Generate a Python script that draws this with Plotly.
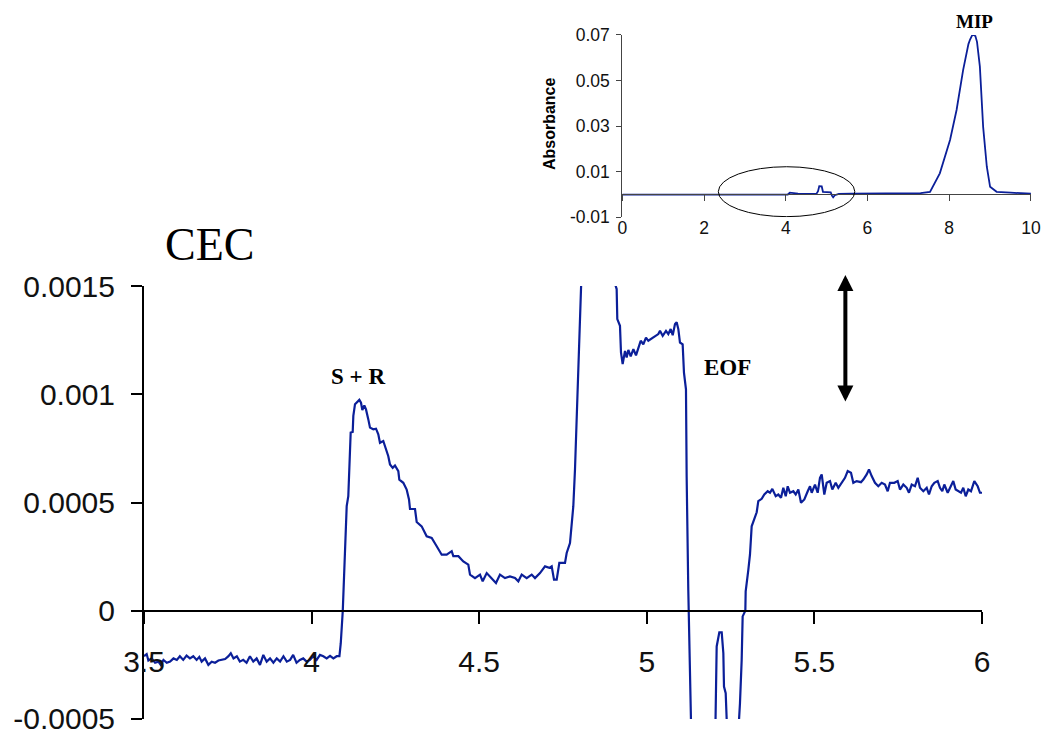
import plotly.graph_objects as go

# ---------------- CEC trace (main panel) ----------------
cec_time = [
    3.500, 3.508, 3.513, 3.523, 3.533, 3.543, 3.550, 3.558, 3.568, 3.578, 3.588, 3.598,
    3.607, 3.617, 3.627, 3.637, 3.647, 3.657, 3.665, 3.672, 3.682, 3.692, 3.702, 3.712,
    3.722, 3.732, 3.742, 3.752, 3.759, 3.767, 3.777, 3.786, 3.796, 3.806, 3.816, 3.826,
    3.836, 3.846, 3.856, 3.866, 3.876, 3.886, 3.896, 3.906, 3.916, 3.926, 3.936, 3.945,
    3.955, 3.965, 3.975, 3.985, 3.995, 4.005, 4.015, 4.025, 4.035, 4.045, 4.055, 4.065,
    4.075, 4.083, 4.087,
    4.093, 4.1017, 4.1047, 4.1095, 4.1146, 4.1166, 4.1226, 4.1245, 4.1295, 4.1424, 4.1474,
    4.1514, 4.1573, 4.1623, 4.1692, 4.1742, 4.1841, 4.1921, 4.199, 4.204, 4.2139, 4.2219,
    4.2288, 4.2339, 4.2419, 4.2488, 4.2587, 4.2617, 4.2736, 4.2836, 4.2906, 4.2936, 4.3085,
    4.3135, 4.3284, 4.3433, 4.3583, 4.3732, 4.3881, 4.403, 4.418, 4.4228, 4.4379, 4.4526,
    4.4675, 4.4726, 4.4875, 4.5024, 4.5104, 4.5224, 4.5373, 4.5501, 4.562, 4.5769, 4.5919,
    4.6068, 4.6167, 4.6268, 4.6417, 4.6566, 4.6665, 4.6814, 4.6963, 4.7092, 4.7163, 4.7232,
    4.7312, 4.7391, 4.756, 4.761, 4.7709, 4.7759, 4.7808, 4.7858, 4.7909, 4.7958, 4.8007,
    4.81, 4.83, 4.86, 4.885, 4.90, 4.9051, 4.9101, 4.912, 4.92, 4.923, 4.928,
    4.935, 4.94, 4.945, 4.952, 4.96, 4.9678, 4.9747, 4.9818, 4.9897, 4.9976, 5.0046,
    5.0146, 5.0245, 5.0344, 5.0394, 5.0474, 5.0573, 5.0642, 5.0713, 5.0773, 5.0842, 5.0892,
    5.0941, 5.099, 5.107, 5.1109, 5.1169, 5.1189, 5.1238, 5.1289, 5.1339, 5.145, 5.195,
    5.2034, 5.2085, 5.2164, 5.2235, 5.2284, 5.2303, 5.2354, 5.2384, 5.248, 5.268,
    5.2751, 5.278, 5.2831, 5.286, 5.294, 5.295, 5.303, 5.3079, 5.3129, 5.3279,
    5.3327, 5.3428, 5.3506, 5.3607, 5.3676, 5.3745, 5.3846, 5.3924, 5.4004, 5.4073, 5.4145,
    5.4204, 5.4273, 5.4372, 5.4443, 5.4521, 5.4601, 5.4700, 5.4801, 5.487, 5.492, 5.5018,
    5.5098, 5.5167, 5.5218, 5.5296, 5.5367, 5.5466, 5.5535, 5.5636, 5.5714, 5.5815, 5.5913,
    5.5994, 5.6092, 5.6161, 5.6262, 5.639, 5.646, 5.656, 5.6629, 5.6709, 5.6808, 5.6907,
    5.7008, 5.7106, 5.7187, 5.7255, 5.7384, 5.7485, 5.7554, 5.7653, 5.7754, 5.7822, 5.7903,
    5.8001, 5.8082, 5.815, 5.825, 5.8351, 5.8419, 5.85, 5.8578, 5.8679, 5.8747, 5.8816,
    5.8876, 5.8977, 5.9075, 5.9144, 5.9215, 5.9293, 5.9374, 5.9442, 5.9514, 5.9592, 5.9672,
    5.9771, 5.9872, 5.994, 6.000,
]
cec_absorbance = [
    -0.000210, -0.000200, -0.000230, -0.000220, -0.000240, -0.000235, -0.000250, -0.000227,
    -0.000240, -0.000235, -0.000220, -0.000227, -0.000210, -0.000227, -0.000207, -0.000220,
    -0.000210, -0.000227, -0.000213, -0.000235, -0.000220, -0.000250, -0.000235, -0.000240,
    -0.000230, -0.000227, -0.000223, -0.000210, -0.000196, -0.000220, -0.000210, -0.000235,
    -0.000227, -0.000240, -0.000210, -0.000235, -0.000220, -0.000250, -0.000204, -0.000235,
    -0.000220, -0.000240, -0.000220, -0.000235, -0.000210, -0.000235, -0.000227, -0.000204,
    -0.000240, -0.000227, -0.000220, -0.000235, -0.000227, -0.000210, -0.000227, -0.000204,
    -0.000210, -0.000220, -0.000208, -0.000220, -0.000210, -0.000210, -0.000150,
    0.000000, 0.000421, 0.000483, 0.000529, 0.000738, 0.000823, 0.000826, 0.000900, 0.000954,
    0.000974, 0.000961, 0.000927, 0.000949, 0.000930, 0.000884, 0.000846, 0.000838, 0.000841,
    0.000815, 0.000776, 0.000784, 0.000745, 0.000714, 0.000676, 0.000660, 0.000671, 0.000645,
    0.000606, 0.000591, 0.000560, 0.000514, 0.000470, 0.000470, 0.000410, 0.000390, 0.000344,
    0.000336, 0.000298, 0.000259, 0.000259, 0.000275, 0.000252, 0.000252, 0.000228, 0.000213,
    0.000167, 0.000151, 0.000167, 0.000136, 0.000174, 0.000151, 0.000128, 0.000167, 0.000151,
    0.000159, 0.000151, 0.000136, 0.000167, 0.000151, 0.000167, 0.000151, 0.000174, 0.000205,
    0.000198, 0.000205, 0.000144, 0.000144, 0.000221, 0.000221, 0.000267, 0.000313, 0.000390,
    0.000483, 0.000653, 0.000961, 0.001316, 0.001509,
    0.002500, 0.004000, 0.004100, 0.003000, 0.001800, 0.001510, 0.001486, 0.001347, 0.001316,
    0.001193, 0.001139,
    0.001200, 0.001170, 0.001205, 0.001175, 0.001208, 0.001180, 0.001216, 0.001247, 0.001231,
    0.001262, 0.001247, 0.001258, 0.001267, 0.001278, 0.001293, 0.001270, 0.001293, 0.001278,
    0.001301, 0.001273, 0.001324, 0.001332, 0.001301, 0.001239, 0.001231, 0.001100, 0.001023,
    0.000622, 0.000097, -0.000227, -0.000505, -0.001500, -0.001500,
    -0.000505, -0.000165, -0.000100, -0.000100, -0.000196, -0.000350, -0.000381, -0.000505,
    -0.001500, -0.001500,
    -0.000505, -0.000427, -0.000227, -0.000026, 0.000000, 0.000090, 0.000190, 0.000260,
    0.000390, 0.000455,
    0.000506, 0.000517, 0.000537, 0.000552, 0.000545, 0.000563, 0.000529, 0.000537, 0.000522,
    0.000568, 0.000529, 0.000575, 0.000545, 0.000552, 0.000537, 0.000560, 0.000499, 0.000514,
    0.000552, 0.000575, 0.000545, 0.000583, 0.000545, 0.000614, 0.000630, 0.000537, 0.000591,
    0.000599, 0.000560, 0.000591, 0.000568, 0.000591, 0.000614, 0.000645, 0.000637, 0.000591,
    0.000599, 0.000594, 0.000606, 0.000630, 0.000653, 0.000622, 0.000591, 0.000575, 0.000591,
    0.000583, 0.000552, 0.000591, 0.000591, 0.000599, 0.000560, 0.000583, 0.000568, 0.000545,
    0.000583, 0.000575, 0.000614, 0.000568, 0.000552, 0.000568, 0.000537, 0.000575, 0.000591,
    0.000599, 0.000568, 0.000552, 0.000583, 0.000545, 0.000575, 0.000599, 0.000560, 0.000552,
    0.000545, 0.000568, 0.000529, 0.000560, 0.000552, 0.000599, 0.000575, 0.000545, 0.000545,
]

cec_xticks = [3.5, 4.0, 4.5, 5.0, 5.5, 6.0]
cec_xtick_text = ["3.5", "4", "4.5", "5", "5.5", "6"]
cec_yticks = [-0.0005, 0.0, 0.0005, 0.001, 0.0015]
cec_ytick_text = ["-0.0005", "0", "0.0005", "0.001", "0.0015"]

# ---------------- full electropherogram (inset) ----------------
full_time = [
    0.0, 4.05, 4.10, 4.30, 4.75, 4.79, 4.82, 4.88, 4.91, 5.10, 5.13, 5.16, 5.20, 5.30,
    5.6, 6.0, 6.5, 7.0, 7.3, 7.53, 7.77, 8.02, 8.18, 8.34, 8.43, 8.47, 8.51, 8.56, 8.60,
    8.64, 8.68, 8.75, 8.83, 8.92, 9.00, 9.16, 9.5, 9.73, 10.0,
]
full_absorbance = [
    0.0, 0.0, 0.0008, 0.0004, 0.0003, 0.0015, 0.0037, 0.0036, 0.0012, 0.0010, -0.0005,
    -0.0012, -0.0003, 0.0003, 0.0004, 0.0005, 0.0005, 0.0005, 0.0006, 0.0012, 0.0093,
    0.0239, 0.0371, 0.0546, 0.0634, 0.0660, 0.0680, 0.0698, 0.0700, 0.0695, 0.0670,
    0.0561, 0.0297, 0.0122, 0.0034, 0.0012, 0.0008, 0.0005, 0.0004,
]
full_xticks = [0, 2, 4, 6, 8, 10]
full_yticks = [-0.01, 0.01, 0.03, 0.05, 0.07]
full_ytick_text = ["-0.01", "0.01", "0.03", "0.05", "0.07"]

LINE_BLUE = "#0b1f99"
SANS = "Liberation Sans, Arial, sans-serif"
SERIF = "Liberation Serif, Times New Roman, serif"

fig = go.Figure()

fig.add_trace(go.Scatter(
    x=cec_time, y=cec_absorbance, mode="lines",
    line=dict(color=LINE_BLUE, width=2.2),
    xaxis="x", yaxis="y", showlegend=False, hoverinfo="skip",
))
fig.add_trace(go.Scatter(
    x=full_time, y=full_absorbance, mode="lines",
    line=dict(color=LINE_BLUE, width=1.8),
    xaxis="x2", yaxis="y2", showlegend=False, hoverinfo="skip",
))
# empty trace so the zero-line tick axis of the inset is drawn
fig.add_trace(go.Scatter(
    x=[], y=[], mode="lines", xaxis="x3", yaxis="y2",
    showlegend=False, hoverinfo="skip",
))

fig.update_layout(
    width=1042, height=733, autosize=False,
    margin=dict(l=0, r=0, t=0, b=0, pad=0, autoexpand=False),
    paper_bgcolor="white", plot_bgcolor="rgba(0,0,0,0)",
    font=dict(family=SANS, color="#111111"),
    xaxis=dict(
        domain=[0.1382, 0.9424], range=[3.5, 6.0],
        anchor="free", position=0.1664, automargin=False,
        showline=True, linecolor="black", linewidth=2,
        ticks="outside", ticklen=12, tickwidth=2, tickcolor="black",
        tickvals=cec_xticks, ticktext=cec_xtick_text,
        tickfont=dict(size=30, family=SANS, color="#111111"),
        ticklabelstandoff=12, ticklabeloverflow="allow",
        showgrid=False, zeroline=False,
    ),
    yaxis=dict(
        domain=[0.0191, 0.6098], range=[-0.0005, 0.0015],
        anchor="x", automargin=False,
        showline=True, linecolor="black", linewidth=2,
        ticks="outside", ticklen=11, tickwidth=2, tickcolor="black",
        tickvals=cec_yticks, ticktext=cec_ytick_text,
        tickfont=dict(size=30, family=SANS, color="#111111"),
        ticklabelstandoff=10, ticklabeloverflow="allow",
        showgrid=False, zeroline=False,
    ),
    xaxis2=dict(
        domain=[0.5972, 0.9894], range=[0, 10], anchor="y2", automargin=False,
        showline=False, ticks="",
        tickvals=full_xticks,
        tickfont=dict(size=17.5, family=SANS, color="#111111"),
        ticklabelstandoff=-2, ticklabeloverflow="allow",
        showgrid=False, zeroline=False,
    ),
    xaxis3=dict(
        domain=[0.5972, 0.9894], range=[0, 10], matches="x2",
        overlaying="x2", anchor="free", position=0.7347, automargin=False,
        showline=True, linecolor="#444444", linewidth=1,
        ticks="outside", ticklen=6, tickwidth=1, tickcolor="#444444",
        tickvals=full_xticks, showticklabels=False,
        showgrid=False, zeroline=False,
    ),
    yaxis2=dict(
        domain=[0.7035, 0.9523], range=[-0.01, 0.07], anchor="x2", automargin=False,
        showline=True, linecolor="#444444", linewidth=1,
        ticks="outside", ticklen=5, tickwidth=1, tickcolor="#444444",
        tickvals=full_yticks, ticktext=full_ytick_text,
        tickfont=dict(size=17.5, family=SANS, color="#111111"),
        ticklabelstandoff=3, ticklabeloverflow="allow",
        showgrid=False, zeroline=False,
    ),
)

# region of the full run that is expanded in the main panel
fig.add_shape(
    type="circle", xref="x2", yref="y2",
    x0=2.35, x1=5.69, y0=-0.0097, y1=0.0122,
    line=dict(color="black", width=1),
)

centered = dict(xref="paper", yref="paper", xanchor="center", yanchor="middle",
                showarrow=False)
annotations = [
    dict(text="CEC", x=0.2015, y=0.6658,
         font=dict(family=SERIF, size=46, color="black"), **centered),
    dict(text="<b>S + R</b>", x=0.3436, y=0.487,
         font=dict(family=SERIF, size=23, color="black"), **centered),
    dict(text="<b>EOF</b>", x=0.6977, y=0.4993,
         font=dict(family=SERIF, size=23, color="black"), **centered),
    dict(text="<b>MIP</b>", x=0.9357, y=0.970,
         font=dict(family=SERIF, size=19, color="black"), **centered),
    dict(text="<b>Absorbance</b>", x=0.5269, y=0.8308, textangle=-90,
         font=dict(family=SANS, size=16, color="black"), **centered),
    dict(text="", x=0.8113, y=0.6248, xref="paper", yref="paper",
         ax=0, ay=128, axref="pixel", ayref="pixel",
         showarrow=True, arrowside="end+start", arrowhead=2,
         arrowsize=0.8, arrowwidth=4, arrowcolor="black"),
]
fig.update_layout(annotations=annotations)

fig.write_html("out.html", config={"displayModeBar": False})
